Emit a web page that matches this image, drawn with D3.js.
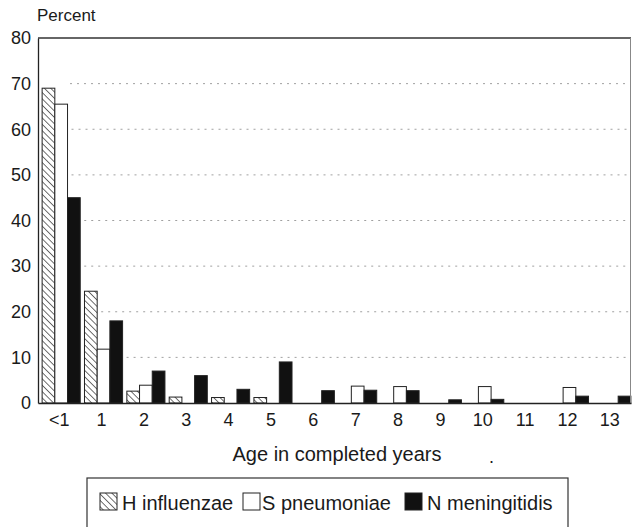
<!DOCTYPE html>
<html>
<head>
<meta charset="utf-8">
<script src="https://cdn.jsdelivr.net/npm/d3@7"></script>
<style>
  html, body { margin: 0; padding: 0; background: #fff; }
  text { font-family: "Liberation Sans", Arial, Helvetica, sans-serif; fill: #1a1a1a; }
</style>
</head>
<body>
<svg id="chart" width="632" height="527"></svg>
<script>
const categories = ["<1","1","2","3","4","5","6","7","8","9","10","11","12","13"];
const seriesNames = ["H influenzae","S pneumoniae","N meningitidis"];
const hInfluenzae  = [69, 24.5, 2.6, 1.3, 1.2, 1.2, 0, 0, 0, 0, 0, 0, 0, 0];
const sPneumoniae  = [65.5, 11.8, 3.9, 0, 0, 0, 0, 3.7, 3.6, 0, 3.6, 0, 3.4, 0];
const nMeningitidis= [45, 18, 7, 6, 3, 9, 2.7, 2.8, 2.7, 0.7, 0.8, 0, 1.5, 1.5];
const yTicks = [0,10,20,30,40,50,60,70,80];

(function () {
const series = [hInfluenzae, sPneumoniae, nMeningitidis];
const svg = d3.select("#chart");

const defs = svg.append("defs");
const pat = defs.append("pattern")
  .attr("id","hatch").attr("patternUnits","userSpaceOnUse")
  .attr("width",4.5).attr("height",4.5)
  .attr("patternTransform","rotate(-45)");
pat.append("rect").attr("width",4.5).attr("height",4.5).attr("fill","#fff");
pat.append("line").attr("x1",0).attr("y1",0).attr("x2",0).attr("y2",4.5)
  .attr("stroke","#222").attr("stroke-width",1.3);

const fills = ["url(#hatch)","#fff","#111"];

const mLeft = 38, mRight = 631, mTop = 38, mBottom = 403;
const x = d3.scaleBand().domain(categories).range([mLeft, mRight]).padding(0);
const y = d3.scaleLinear().domain([0,80]).range([mBottom, mTop]);
const barW = 12.7;
const groupOffset = 2;

function barX(i, s) {
  const c = x(categories[i]) + x.bandwidth()/2 + groupOffset;
  return c - 1.5*barW + s*barW;
}

// gridlines (start after last bar taller than the line)
yTicks.filter(v => v > 0 && v < 80).forEach(v => {
  let start = mLeft + 32;
  series.forEach((arr, s) => arr.forEach((val, i) => {
    if (val > v) start = Math.max(start, barX(i, s) + barW + 4);
  }));
  svg.append("line")
    .attr("x1", start).attr("x2", mRight)
    .attr("y1", y(v)).attr("y2", y(v))
    .attr("stroke","#a0a0a0").attr("stroke-width",1)
    .attr("stroke-dasharray","2,5");
});

// bars
series.forEach((arr, s) => {
  svg.append("g").selectAll("rect").data(arr).join("rect")
    .attr("x", (d,i) => barX(i, s))
    .attr("y", d => y(d))
    .attr("width", barW)
    .attr("height", d => mBottom - y(d))
    .attr("fill", fills[s])
    .attr("stroke", "#222")
    .attr("stroke-width", 1)
    .attr("display", d => d > 0 ? null : "none");
});

// frame
svg.append("line").attr("x1",mLeft).attr("x2",mRight).attr("y1",mTop).attr("y2",mTop)
  .attr("stroke","#333").attr("stroke-width",1.4);
svg.append("line").attr("x1",mRight-0.5).attr("x2",mRight-0.5).attr("y1",mTop).attr("y2",mBottom)
  .attr("stroke","#888").attr("stroke-width",1);

// y axis
const yAxis = d3.axisLeft(y).tickValues(yTicks).tickSize(0).tickPadding(7);
const gy = svg.append("g").attr("transform",`translate(${mLeft},0)`).call(yAxis);
gy.select(".domain").attr("stroke","#222").attr("stroke-width",1.3);
gy.selectAll("text").style("font-size","18px").attr("fill","#1a1a1a");

// x axis
const xAxis = d3.axisBottom(x).tickSize(0).tickPadding(10);
const gx = svg.append("g").attr("transform",`translate(0,${mBottom})`).call(xAxis);
gx.select(".domain").attr("stroke","#222").attr("stroke-width",1.3);
gx.selectAll("text").style("font-size","18px").attr("fill","#1a1a1a");

// titles
svg.append("text").attr("x",37).attr("y",21).style("font-size","17px").text("Percent");
svg.append("text").attr("x",337).attr("y",461).attr("text-anchor","middle")
  .style("font-size","20px").text("Age in completed years");
svg.append("text").attr("x",489).attr("y",463).style("font-size","18px").text(".");

// legend
svg.append("rect").attr("x",87).attr("y",478).attr("width",481).attr("height",60)
  .attr("fill","none").attr("stroke","#333").attr("stroke-width",1.2);
const legendItems = [
  {sw: 100, tx: 122},
  {sw: 243, tx: 262},
  {sw: 405, tx: 427}
];
seriesNames.forEach((name, s) => {
  svg.append("rect").attr("x",legendItems[s].sw).attr("y",493).attr("width",17).attr("height",17)
    .attr("fill",fills[s]).attr("stroke","#222").attr("stroke-width",1);
  svg.append("text").attr("x",legendItems[s].tx).attr("y",510)
    .style("font-size","20px").text(name);
});
})();
</script>
</body>
</html>
